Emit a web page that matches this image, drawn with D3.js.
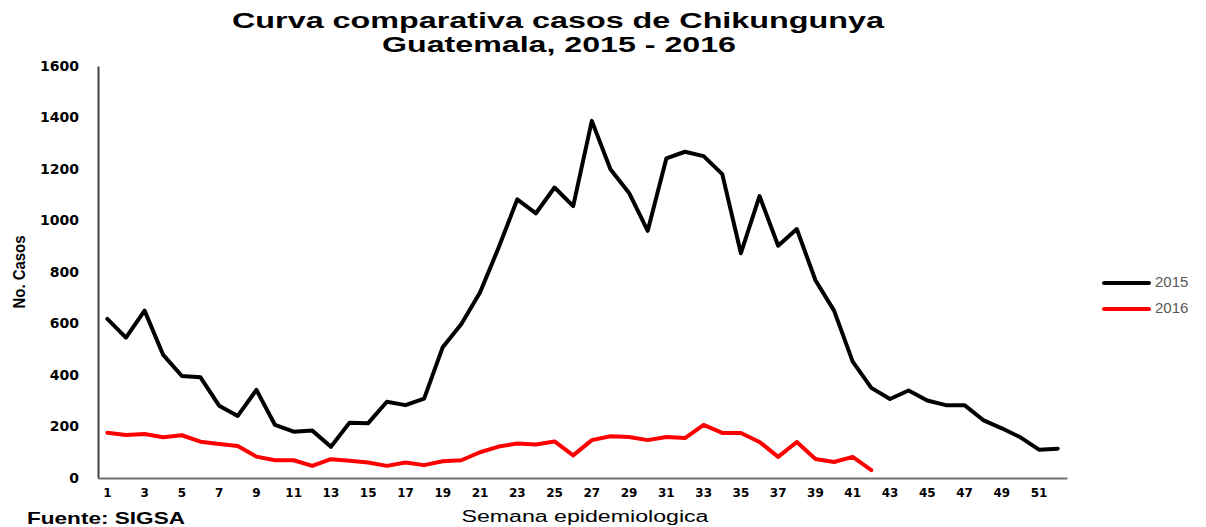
<!DOCTYPE html>
<html>
<head>
<meta charset="utf-8">
<script src="https://cdn.jsdelivr.net/npm/d3@7"></script>
<style>
  body { margin: 0; background: #fff; }
  text { font-family: "Liberation Sans", Arial, sans-serif; }
</style>
</head>
<body>
<div id="chart"></div>
<script>
// data
var weeks = d3.range(1, 53);
var cases2015 = [618, 545, 650, 478, 396, 391, 281, 241, 342, 206,
                 180, 184, 121, 215, 213, 296, 283, 308, 508, 598,
                 720, 895, 1082, 1028, 1128, 1056, 1387, 1199, 1107, 960,
                 1241, 1267, 1250, 1180, 873, 1095, 902, 967, 768, 650,
                 452, 350, 307, 340, 301, 283, 283, 225, 193, 158,
                 110, 114];
var cases2016 = [176, 167, 171, 158, 166, 141, 132, 124, 83, 69,
                 69, 47, 73, 67, 60, 47, 60, 50, 65, 69,
                 100, 122, 134, 130, 142, 88, 147, 162, 159, 147,
                 159, 155, 206, 175, 175, 140, 82, 140, 74, 62,
                 82, 31];
var yTicks = [0, 200, 400, 600, 800, 1000, 1200, 1400, 1600];
var series = [
  {name: "2015", values: cases2015, color: "#000000"},
  {name: "2016", values: cases2016, color: "#ff0000"}
];

var W = 1206, H = 527;
var margin = {top: 66, right: 139, bottom: 49, left: 98},
    width = W - margin.left - margin.right,
    height = H - margin.top - margin.bottom;

var svg = d3.select("#chart").append("svg")
  .attr("width", W).attr("height", H);

var g = svg.append("g")
  .attr("transform", "translate(" + margin.left + "," + margin.top + ")");

var x = d3.scaleBand().domain(weeks).range([0, width]);
var y = d3.scaleLinear().domain([0, 1600]).range([height, 0]);

// title
svg.append("text").attr("x", 558).attr("y", 28)
  .attr("text-anchor", "middle")
  .style("font-size", "22px").style("font-weight", "bold")
  .attr("textLength", 652).attr("lengthAdjust", "spacingAndGlyphs")
  .text("Curva comparativa casos de Chikungunya");
svg.append("text").attr("x", 559).attr("y", 52)
  .attr("text-anchor", "middle")
  .style("font-size", "22px").style("font-weight", "bold")
  .attr("textLength", 354).attr("lengthAdjust", "spacingAndGlyphs")
  .text("Guatemala, 2015 - 2016");

// y axis
var yAxis = g.append("g")
  .call(d3.axisLeft(y).tickValues(yTicks).tickSize(0).tickPadding(19)
    .tickFormat(d3.format("d")));
yAxis.select(".domain").attr("stroke", "#404040").attr("stroke-width", 2);
yAxis.selectAll("text")
  .style("font-family", "'DejaVu Sans', sans-serif")
  .style("font-size", "14px").style("font-weight", "bold").attr("fill", "#000");

// x axis, only odd weeks labelled
var xAxis = g.append("g")
  .attr("transform", "translate(0," + height + ")")
  .call(d3.axisBottom(x).tickSize(0).tickPadding(10)
    .tickFormat(function(d) { return d % 2 === 1 ? d : ""; }));
xAxis.select(".domain").attr("stroke", "#707070").attr("stroke-width", 2);
xAxis.selectAll("text")
  .style("font-family", "'DejaVu Sans', sans-serif")
  .style("font-size", "12px").style("font-weight", "bold").attr("fill", "#000");

// axis titles
svg.append("text")
  .attr("transform", "translate(25,272) rotate(-90)")
  .attr("text-anchor", "middle")
  .style("font-size", "17px").style("font-weight", "bold")
  .attr("textLength", 73).attr("lengthAdjust", "spacingAndGlyphs")
  .text("No. Casos");
svg.append("text").attr("x", 585).attr("y", 522)
  .attr("text-anchor", "middle")
  .style("font-size", "16px")
  .attr("textLength", 247).attr("lengthAdjust", "spacingAndGlyphs")
  .text("Semana epidemiologica");
svg.append("text").attr("x", 27).attr("y", 524)
  .style("font-size", "17px").style("font-weight", "bold")
  .attr("textLength", 158).attr("lengthAdjust", "spacingAndGlyphs")
  .text("Fuente: SIGSA");

// lines
var line = d3.line()
  .x(function(d, i) { return x(weeks[i]) + x.bandwidth() / 2; })
  .y(function(d) { return y(d); });

series.forEach(function(s) {
  g.append("path")
    .datum(s.values)
    .attr("d", line)
    .style("fill", "none")
    .style("stroke", s.color)
    .style("stroke-width", 4)
    .style("stroke-linejoin", "round")
    .style("stroke-linecap", "round");
});

// legend
series.forEach(function(s, i) {
  var ly = 283 + i * 26;
  svg.append("line").attr("x1", 1104).attr("x2", 1149)
    .attr("y1", ly).attr("y2", ly)
    .style("stroke", s.color).style("stroke-width", 4)
    .style("stroke-linecap", "round");
  svg.append("text").attr("x", 1155).attr("y", ly)
    .attr("dominant-baseline", "middle")
    .style("font-size", "15px").attr("fill", "#595959")
    .text(s.name);
});
</script>
</body>
</html>
